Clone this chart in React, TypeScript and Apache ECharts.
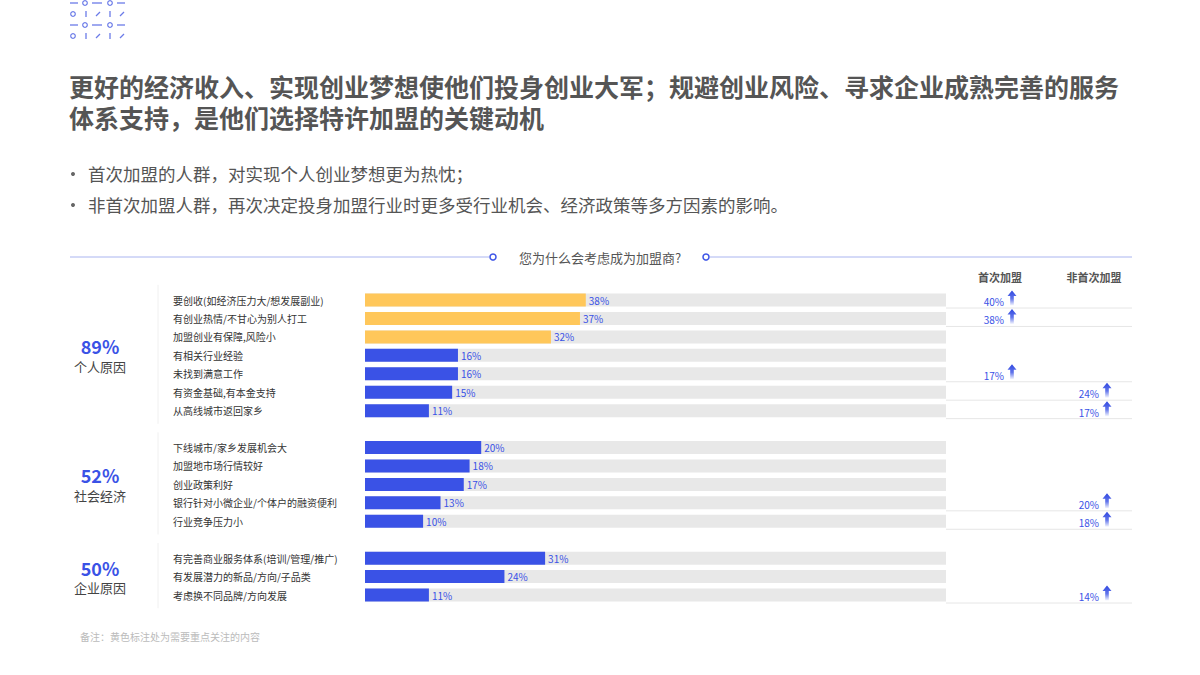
import React, { useEffect, useRef } from 'react';
import * as echarts from 'echarts';

const titleLines = [
  '更好的经济收入、实现创业梦想使他们投身创业大军；规避创业风险、寻求企业成熟完善的服务',
  '体系支持，是他们选择特许加盟的关键动机',
];
const bulletTexts = [
  '首次加盟的人群，对实现个人创业梦想更为热忱；',
  '非首次加盟人群，再次决定投身加盟行业时更多受行业机会、经济政策等多方因素的影响。',
];
const questionText = '您为什么会考虑成为加盟商?';
const columnHeaders = ['首次加盟', '非首次加盟'];
const footnote = '备注：黄色标注处为需要重点关注的内容';

const groupNames = ['个人原因', '社会经济', '企业原因'];
const groupShares = [89, 52, 50];

const personalItems = ['要创收(如经济压力大/想发展副业)', '有创业热情/不甘心为别人打工', '加盟创业有保障,风险小', '有相关行业经验', '未找到满意工作', '有资金基础,有本金支持', '从高线城市返回家乡'];
const personalValues = [38, 37, 32, 16, 16, 15, 11];
const personalFirst = [40, 38, null, null, 17, null, null];
const personalNonFirst = [null, null, null, null, null, 24, 17];

const socialItems = ['下线城市/家乡发展机会大', '加盟地市场行情较好', '创业政策利好', '银行针对小微企业/个体户的融资便利', '行业竞争压力小'];
const socialValues = [20, 18, 17, 13, 10];
const socialFirst = [null, null, null, null, null];
const socialNonFirst = [null, null, null, 20, 18];

const businessItems = ['有完善商业服务体系(培训/管理/推广)', '有发展潜力的新品/方向/子品类', '考虑换不同品牌/方向发展'];
const businessValues = [31, 24, 11];
const businessFirst = [null, null, null];
const businessNonFirst = [null, null, 14];

const highlightedItems = ['要创收(如经济压力大/想发展副业)', '有创业热情/不甘心为别人打工', '加盟创业有保障,风险小'];

const BLUE = '#3a52e6';
const YELLOW = '#ffc75a';
const TRACK = '#e8e8e8';
const FONT = '"Noto Sans CJK SC", "Noto Sans", sans-serif';

const groups = [
  { items: personalItems, values: personalValues, first: personalFirst, nonFirst: personalNonFirst },
  { items: socialItems, values: socialValues, first: socialFirst, nonFirst: socialNonFirst },
  { items: businessItems, values: businessValues, first: businessFirst, nonFirst: businessNonFirst },
];

type Row = { label: string; value: number | null; first: number | null; nonFirst: number | null; spacer: boolean };
const rows: Row[] = [];
const groupRanges: [number, number][] = [];
groups.forEach((g, gi) => {
  if (gi > 0) rows.push({ label: '', value: null, first: null, nonFirst: null, spacer: true });
  const start = rows.length;
  g.items.forEach((it, i) => rows.push({ label: it, value: g.values[i], first: g.first[i], nonFirst: g.nonFirst[i], spacer: false }));
  groupRanges.push([start, rows.length - 1]);
});

const GRID_LEFT = 365;
const GRID_WIDTH = 581;
const ROW_H = 18.44;
const GRID_TOP = 300 - ROW_H / 2;
const GRID_H = ROW_H * rows.length;

const ARROW = 'M4.5 0 L9 5.5 L6.3 5.5 L6.3 15 L2.7 15 L2.7 5.5 L0 5.5 Z';

function buildGraphic() {
  const g: any[] = [];
  // logo
  const lc = '#6b7be8';
  [3, 25].forEach((y) => {
    [[70, 78], [92, 102], [117, 125]].forEach(([a, b]) => g.push({ type: 'line', shape: { x1: a, y1: y, x2: b, y2: y }, style: { stroke: lc, lineWidth: 1.3 } }));
    [85, 110].forEach((x) => g.push({ type: 'circle', shape: { cx: x, cy: y, r: 2.3 }, style: { stroke: lc, fill: '#fff', lineWidth: 1.2 } }));
  });
  [14, 36].forEach((y) => {
    g.push({ type: 'circle', shape: { cx: 73, cy: y, r: 2.3 }, style: { stroke: lc, fill: '#fff', lineWidth: 1.2 } });
    [86, 110].forEach((x) => g.push({ type: 'line', shape: { x1: x, y1: y - 3, x2: x, y2: y + 3 }, style: { stroke: lc, lineWidth: 1.3 } }));
    [98, 122].forEach((x) => g.push({ type: 'line', shape: { x1: x - 2, y1: y + 2, x2: x + 2, y2: y - 2 }, style: { stroke: lc, lineWidth: 1.3 } }));
  });
  // title
  titleLines.forEach((t, i) => {
    g.push({ type: 'text', x: 69, y: 86 + i * 31, style: { text: t, fill: '#555', font: `bold 25px ${FONT}`, lineHeight: 26, verticalAlign: 'middle' } });
  });
  // bullets
  bulletTexts.forEach((t, i) => {
    const y = 173 + i * 31;
    g.push({ type: 'circle', shape: { cx: 73, cy: y + 1, r: 2 }, style: { fill: '#666' } });
    g.push({ type: 'text', x: 88, y, style: { text: t, fill: '#555', font: `17.5px ${FONT}`, verticalAlign: 'middle' } });
  });
  // question header
  g.push({ type: 'line', shape: { x1: 70, y1: 257, x2: 489, y2: 257 }, style: { stroke: '#aab5f0', lineWidth: 1 } });
  g.push({ type: 'line', shape: { x1: 710, y1: 257, x2: 1132, y2: 257 }, style: { stroke: '#aab5f0', lineWidth: 1 } });
  [493, 706].forEach((x) => g.push({ type: 'circle', shape: { cx: x, cy: 257, r: 3 }, style: { stroke: BLUE, fill: '#fff', lineWidth: 1.5 } }));
  g.push({ type: 'text', x: 600, y: 257, style: { text: questionText, fill: '#555', font: `13px ${FONT}`, align: 'center', verticalAlign: 'middle' } });
  // column headers
  g.push({ type: 'text', x: 1000, y: 277, style: { text: columnHeaders[0], fill: '#555', font: `bold 11px ${FONT}`, align: 'center', verticalAlign: 'middle' } });
  g.push({ type: 'text', x: 1094, y: 277, style: { text: columnHeaders[1], fill: '#555', font: `bold 11px ${FONT}`, align: 'center', verticalAlign: 'middle' } });
  // group annotations
  groupRanges.forEach(([s, e], gi) => {
    const mid = GRID_TOP + ROW_H * ((s + e) / 2 + 0.5);
    g.push({ type: 'text', x: 100, y: mid - 9, style: { text: groupShares[gi] + '%', fill: BLUE, font: `bold 18px ${FONT}`, align: 'center', verticalAlign: 'middle' } });
    g.push({ type: 'text', x: 100, y: mid + 11, style: { text: groupNames[gi], fill: '#444', font: `13px ${FONT}`, align: 'center', verticalAlign: 'middle' } });
    g.push({ type: 'line', shape: { x1: 158, y1: GRID_TOP + ROW_H * s - 6, x2: 158, y2: GRID_TOP + ROW_H * (e + 1) + 4 }, style: { stroke: '#f0f0f0', lineWidth: 1 } });
  });
  // footnote
  g.push({ type: 'text', x: 80, y: 636, style: { text: footnote, fill: '#bbb', font: `10px ${FONT}`, verticalAlign: 'middle' } });
  return g;
}

const arrowFill = new echarts.graphic.LinearGradient(0, 0, 0, 1, [
  { offset: 0, color: '#2f47e0' },
  { offset: 0.55, color: 'rgba(58,82,230,0.8)' },
  { offset: 1, color: 'rgba(58,82,230,0.05)' },
]);

function renderRight(params: any, api: any) {
  const row = api.value(1);
  const first = api.value(2);
  const nonFirst = api.value(3);
  const p = api.coord([100, row]);
  const x0 = p[0];
  const y = p[1];
  const children: any[] = [
    { type: 'line', shape: { x1: x0, y1: y + 8, x2: x0 + 186, y2: y + 8 }, style: { stroke: '#e6e6e6', lineWidth: 1 } },
  ];
  const add = (v: number, ax: number) => {
    if (v == null || isNaN(v)) return;
    children.push({ type: 'text', style: { text: v + '%', x: ax - 8, y: y + 1.5, align: 'right', verticalAlign: 'middle', fill: BLUE, font: `10px ${FONT}` } });
    children.push({ type: 'path', shape: { pathData: ARROW, x: ax - 4.5, y: y - 9.5, width: 9, height: 15 }, style: { fill: arrowFill } });
  };
  add(first, x0 + 66);
  add(nonFirst, x0 + 161);
  return { type: 'group', children };
}

const option: any = {
  animation: false,
  backgroundColor: '#fff',
  textStyle: { fontFamily: FONT },
  grid: { left: GRID_LEFT, width: GRID_WIDTH, top: GRID_TOP, height: GRID_H, containLabel: false },
  xAxis: { type: 'value', min: 0, max: 100, show: false },
  yAxis: {
    type: 'category',
    inverse: true,
    data: rows.map((r) => r.label),
    axisLine: { show: false },
    axisTick: { show: false },
    splitLine: { show: false },
    axisLabel: { align: 'left', margin: 192, fontSize: 10, color: '#333', fontFamily: FONT, interval: 0 },
  },
  graphic: buildGraphic(),
  series: [
    {
      type: 'bar',
      silent: true,
      barWidth: 13,
      barGap: '-100%',
      itemStyle: { color: TRACK },
      data: rows.map((r) => (r.spacer ? null : 100)),
      z: 1,
    },
    {
      type: 'bar',
      barWidth: 13,
      data: rows.map((r) =>
        r.spacer
          ? null
          : { value: r.value, itemStyle: { color: highlightedItems.includes(r.label) ? YELLOW : BLUE } }
      ),
      label: { show: true, position: 'right', distance: 3, formatter: '{c}%', color: BLUE, fontSize: 10, fontFamily: FONT },
      z: 2,
    },
    {
      type: 'custom',
      renderItem: renderRight,
      encode: { x: 0, y: 1 },
      data: rows
        .map((r, i) => (r.first != null || r.nonFirst != null ? [100, i, r.first ?? '-', r.nonFirst ?? '-'] : null))
        .filter((d) => d !== null),
      z: 3,
    },
  ],
};

export default function App() {
  const ref = useRef<HTMLDivElement>(null);
  useEffect(() => {
    const chart = echarts.init(ref.current!, null, { renderer: 'svg' });
    chart.setOption(option);
    return () => chart.dispose();
  }, []);
  return <div ref={ref} style={{ position: 'fixed', left: 0, top: 0, width: 1200, height: 675, background: '#fff' }} />;
}
